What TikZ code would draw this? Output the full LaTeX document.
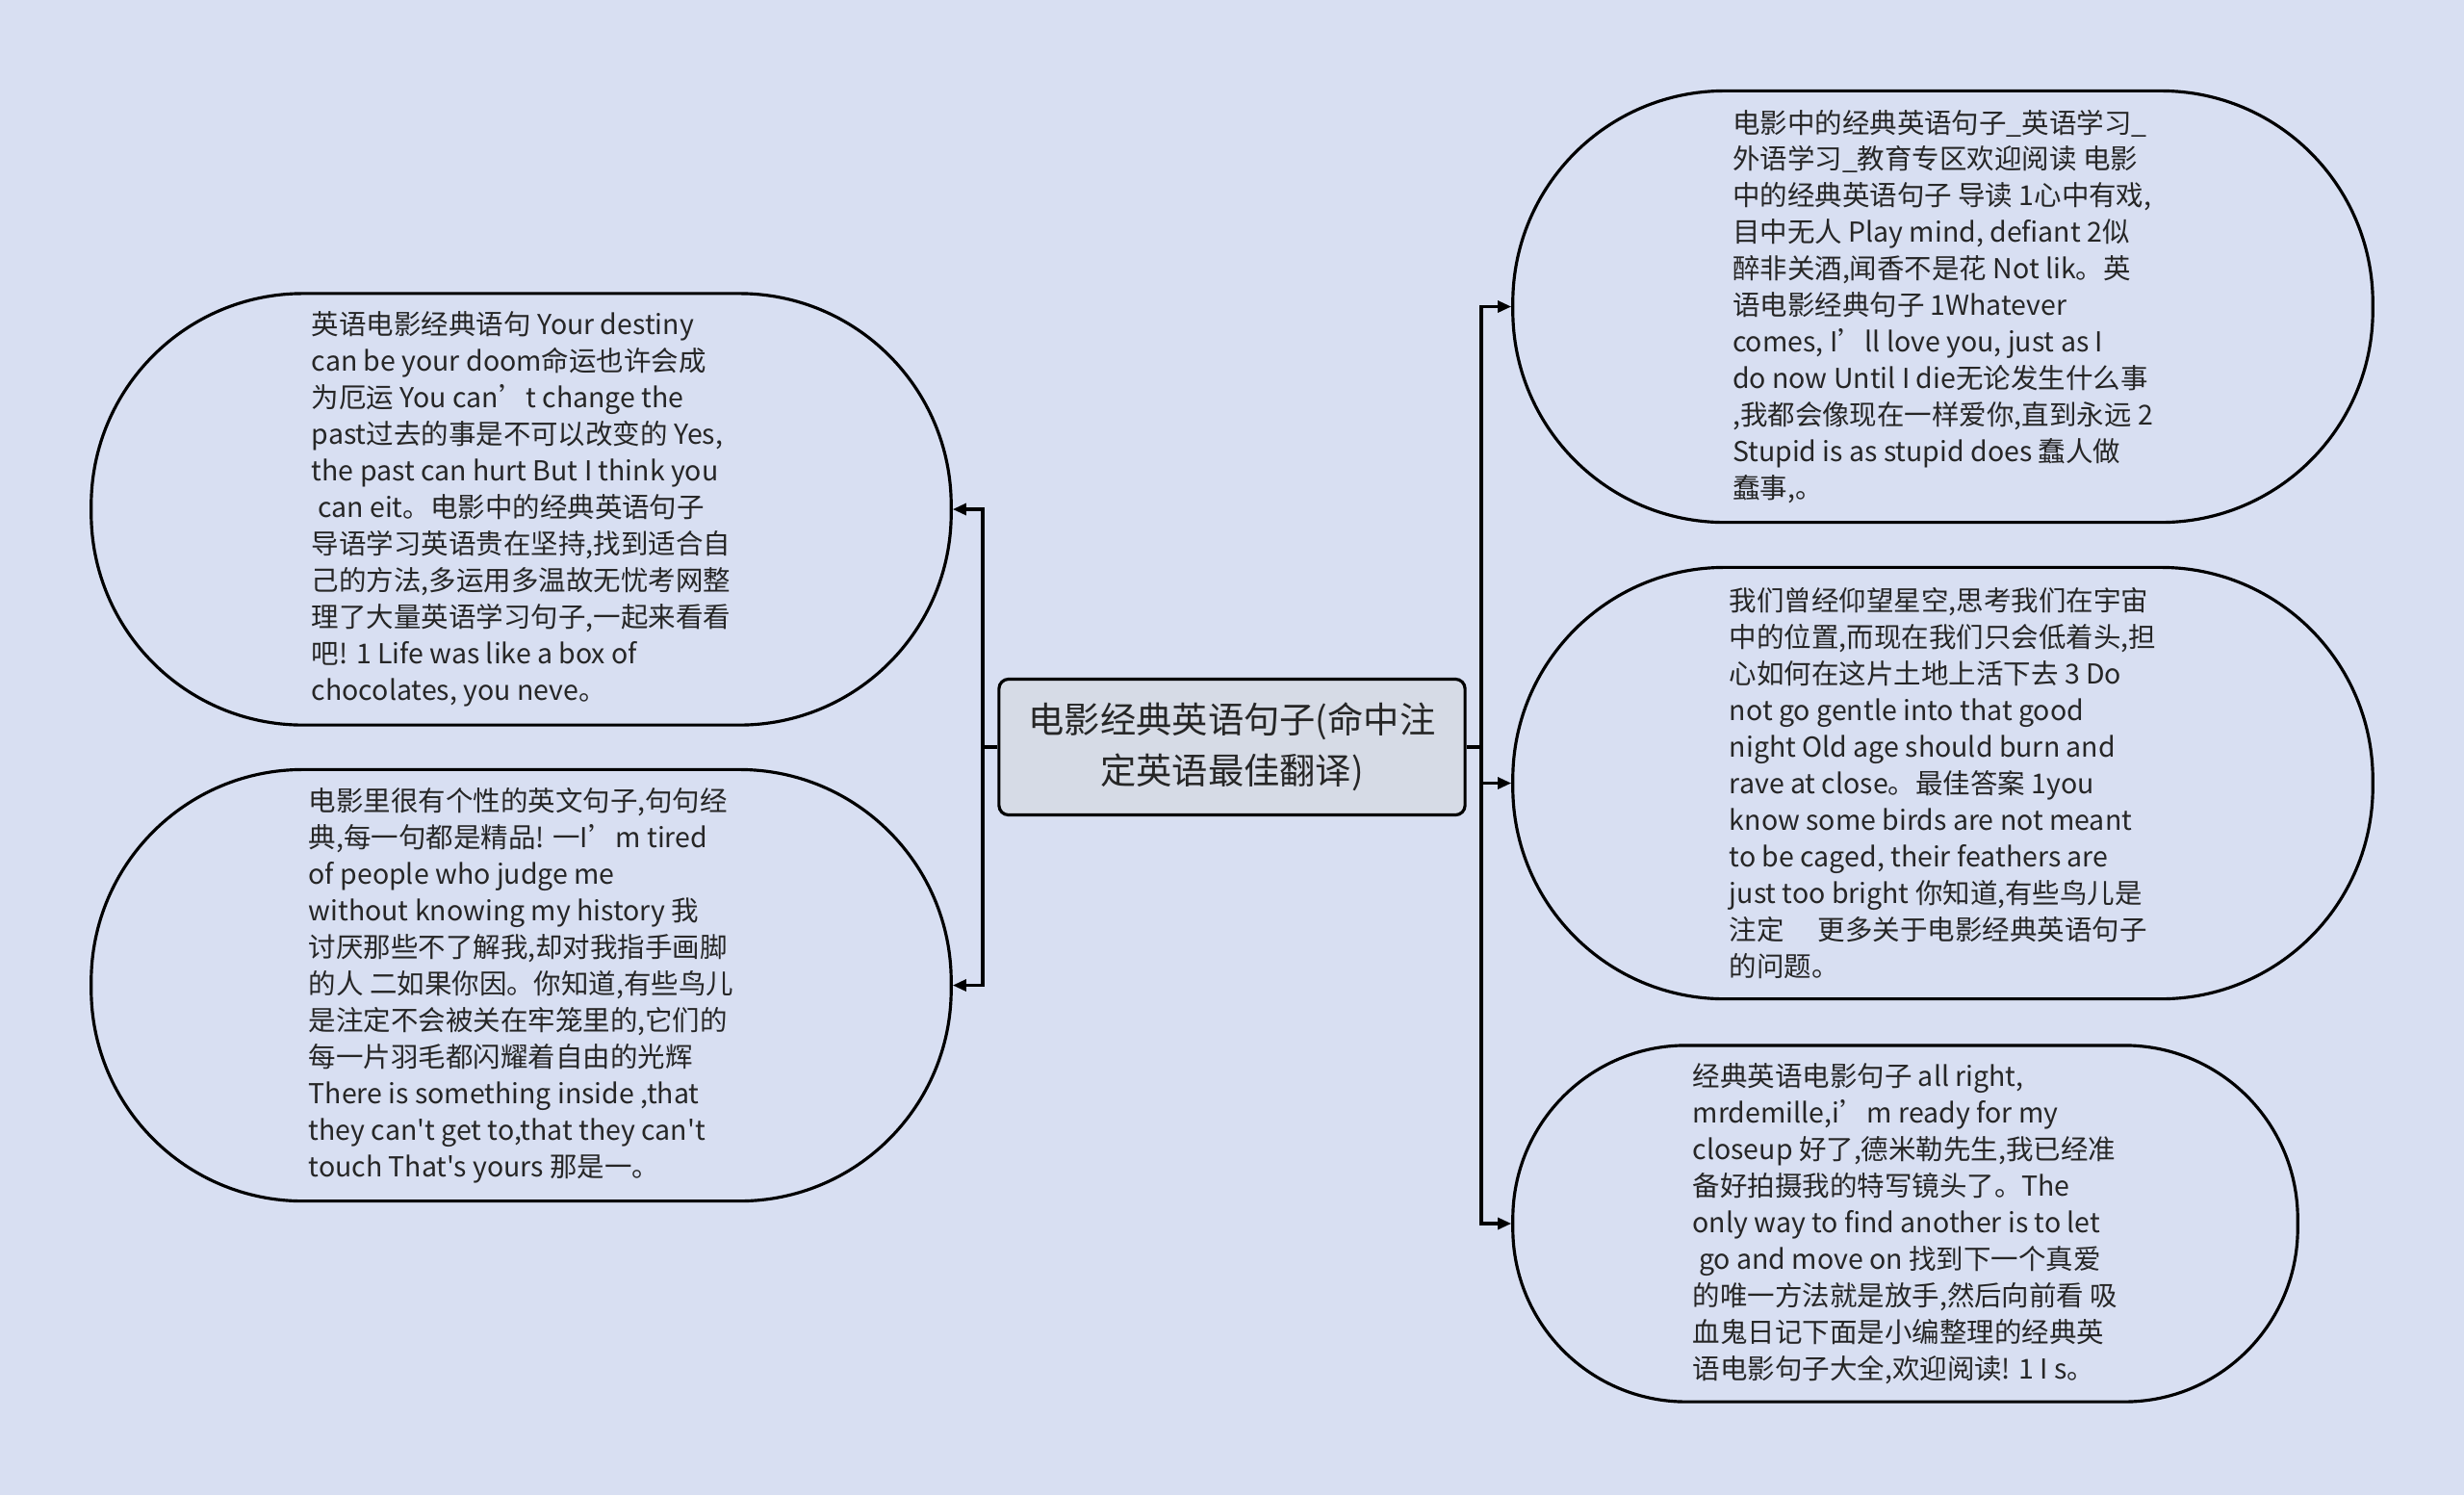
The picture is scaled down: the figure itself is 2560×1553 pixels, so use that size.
\documentclass[tikz,border=0pt]{standalone}
\usepackage{fontspec}
\setmainfont{Noto Sans CJK SC}[Ligatures=TeXOff]
\usetikzlibrary{arrows.meta, positioning}
\definecolor{bgblue}{HTML}{D8DFF2}
\definecolor{rootfill}{HTML}{D6DBE6}
\definecolor{inktext}{HTML}{262626}

\begin{document}
\begin{tikzpicture}[x=0.01cm, y=-0.01cm,
          root/.style={rectangle, draw=black, fill=rootfill, line width=0.9pt,
                      rounded corners=0.1cm, minimum width=4.84cm,
                      minimum height=1.41cm, inner sep=0pt, text=inktext,
                      font=\fontsize{10.6pt}{15pt}\selectfont, align=center},
          leaf/.style={rectangle, draw=black, fill=bgblue, line width=0.9pt,
                      rounded corners=2.2cm, minimum width=8.93cm,
                      minimum height=4.48cm, inner sep=0pt, text=inktext,
                      font=\fontsize{8.1pt}{10.8pt}\selectfont, align=left},
          link/.style={line width=0.9pt},
          arr/.style={-{Triangle[length=4pt, width=3.4pt]}, line width=0.9pt},
        ]
          \fill[bgblue] (0,0) rectangle (2560,1553);
          \useasboundingbox (0,0) rectangle (2560,1553);
          \node[root] (c) at (1280,776) {电影经典英语句子(命中注\\定英语最佳翻译)};
          % left side
          \node[leaf] (lt) at (541.5,529) {英语电影经典语句 Your destiny\\
            can be your doom命运也许会成\\
            为厄运 You can’t change the\\
            past过去的事是不可以改变的 Yes,\\
            the past can hurt But I think you\\
            \ can eit。电影中的经典英语句子\\
            导语学习英语贵在坚持,找到适合自\\
            己的方法,多运用多温故无忧考网整\\
            理了大量英语学习句子,一起来看看\\
            吧! 1 Life was like a box of\\
            chocolates, you neve。};
          \node[leaf] (lb) at (541.5,1023.5) {电影里很有个性的英文句子,句句经\\
            典,每一句都是精品! 一I’m tired\\
            of people who judge me\\
            without knowing my history 我\\
            讨厌那些不了解我,却对我指手画脚\\
            的人 二如果你因。你知道,有些鸟儿\\
            是注定不会被关在牢笼里的,它们的\\
            每一片羽毛都闪耀着自由的光辉\\
            There is something inside ,that\\
            they can't get to,that they can't\\
            touch That's yours 那是一。};
          % right side
          \node[leaf] (rt) at (2018.5,318.5) {电影中的经典英语句子\_英语学习\_\\
            外语学习\_教育专区欢迎阅读 电影\\
            中的经典英语句子 导读 1心中有戏,\\
            目中无人 Play mind, defiant 2似\\
            醉非关酒,闻香不是花 Not lik。英\\
            语电影经典句子 1Whatever\\
            comes, I’ll love you, just as I\\
            do now Until I die无论发生什么事\\
            ,我都会像现在一样爱你,直到永远 2\\
            Stupid is as stupid does 蠢人做\\
            蠢事,。};
          \node[leaf] (rm) at (2018.5,813.5) {我们曾经仰望星空,思考我们在宇宙\\
            中的位置,而现在我们只会低着头,担\\
            心如何在这片土地上活下去 3 Do\\
            not go gentle into that good\\
            night Old age should burn and\\
            rave at close。最佳答案 1you\\
            know some birds are not meant\\
            to be caged, their feathers are\\
            just too bright 你知道,有些鸟儿是\\
            注定\quad\ 更多关于电影经典英语句子\\
            的问题。};
          \node[leaf, minimum width=8.15cm, minimum height=3.7cm,
                rounded corners=1.8cm] (rb) at (1979.5,1271) {经典英语电影句子 all right,\\
            mrdemille,i’m ready for my\\
            closeup 好了,德米勒先生,我已经准\\
            备好拍摄我的特写镜头了。The\\
            only way to find another is to let\\
            \ go and move on 找到下一个真爱\\
            的唯一方法就是放手,然后向前看 吸\\
            血鬼日记下面是小编整理的经典英\\
            语电影句子大全,欢迎阅读! 1 I s。};
          % connectors
          \coordinate (jl) at (1021,776);
          \coordinate (jr) at (1539,776);
          \draw[link] (c.west) -- (jl);
          \draw[arr] (jl) |- (lt.east);
          \draw[arr] (jl) |- (lb.east);
          \draw[link] (c.east) -- (jr);
          \draw[arr] (jr) |- (rt.west);
          \draw[arr] (jr) |- (rm.west);
          \draw[arr] (jr) |- (rb.west);
        \end{tikzpicture}
\end{document}
